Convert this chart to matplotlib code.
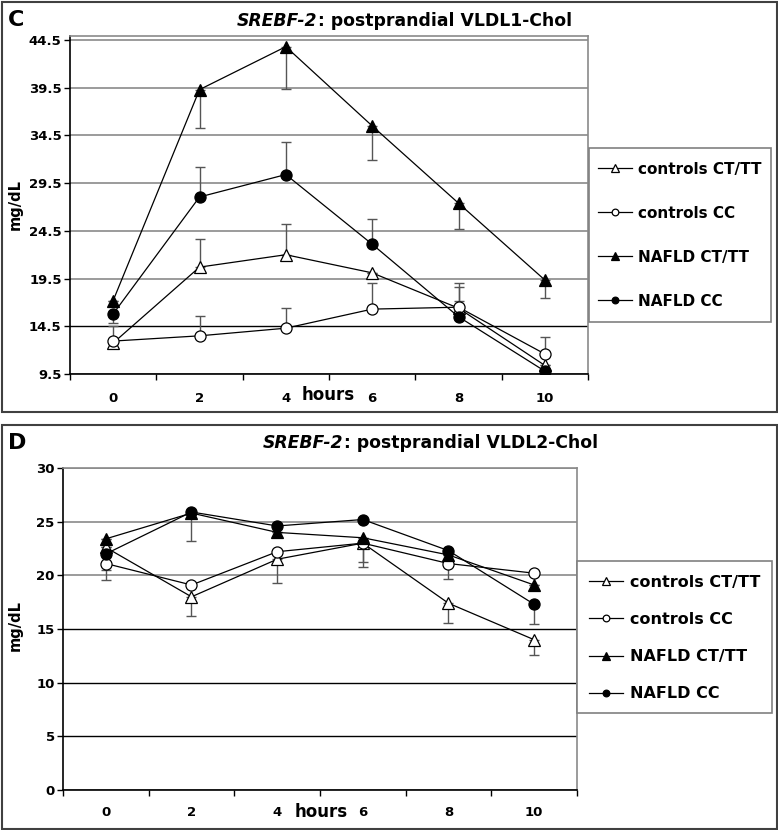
import matplotlib
matplotlib.use('Agg')
import matplotlib.pyplot as plt
from matplotlib.patches import Rectangle
from matplotlib.text import Annotation
import numpy as np

plt.rcParams['font.family'] = ['DejaVu Sans']
plt.rcParams['font.weight'] = 'bold'

# ---------------- data ----------------
hours = ['0', '2', '4', '6', '8', '10']
series_names = ['controls CT/TT', 'controls CC', 'NAFLD CT/TT', 'NAFLD CC']

# Panel C: VLDL1-Chol (mg/dL)
c_ctrl_ctt = [12.75, 20.7, 22.0, 20.1, 16.4, 10.4]
c_ctrl_cc = [12.95, 13.5, 14.3, 16.3, 16.5, 11.6]
c_nafld_ctt = [17.2, 39.3, 43.8, 35.5, 27.4, 19.35]
c_nafld_cc = [15.8, 28.05, 30.4, 23.1, 15.5, 9.8]
# error bars (lower, upper)
c_ctrl_ctt_lo = [0, 0, 0, 0, 0, 0]
c_ctrl_ctt_hi = [1.8, 2.9, 3.2, 0, 2.2, 0]
c_ctrl_cc_lo = [0, 0, 0, 0, 0, 0]
c_ctrl_cc_hi = [0, 2.1, 2.1, 2.7, 2.5, 1.8]
c_nafld_ctt_lo = [0, 4.0, 4.4, 3.6, 2.7, 1.9]
c_nafld_ctt_hi = [0, 0, 0, 0, 0, 0]
c_nafld_cc_lo = [1.0, 0, 0, 0, 0, 0]
c_nafld_cc_hi = [0, 3.1, 3.4, 2.6, 1.6, 0]
c_yticks = [9.5, 14.5, 19.5, 24.5, 29.5, 34.5, 39.5, 44.5]

# Panel D: VLDL2-Chol (mg/dL)
d_ctrl_ctt = [22.6, 18.0, 21.5, 23.0, 17.4, 14.0]
d_ctrl_cc = [21.1, 19.1, 22.2, 23.0, 21.1, 20.2]
d_nafld_ctt = [23.4, 25.8, 24.0, 23.5, 21.9, 19.1]
d_nafld_cc = [22.0, 25.9, 24.6, 25.2, 22.3, 17.3]
d_ctrl_ctt_lo = [0, 1.8, 2.2, 2.2, 1.8, 1.4]
d_ctrl_cc_lo = [1.5, 0, 0, 1.8, 1.4, 0]
d_nafld_ctt_lo = [0, 2.6, 0, 0, 0, 0]
d_nafld_cc_lo = [1.5, 0, 0, 0, 0, 1.8]
d_zero = [0, 0, 0, 0, 0, 0]
d_yticks = [0, 5, 10, 15, 20, 25, 30]

W, H = 778, 830
fig = plt.figure(figsize=(W / 100, H / 100), dpi=100)


def fx(x):
    return x / W


def fy(y):
    return 1 - y / H


def axes_px(x0, y0, x1, y1):
    return fig.add_axes([fx(x0), fy(y1), (x1 - x0) / W, (y1 - y0) / H])


styles = [
    dict(marker='^', mfc='white', ms=9),
    dict(marker='o', mfc='white', ms=8),
    dict(marker='^', mfc='black', ms=9),
    dict(marker='o', mfc='black', ms=8),
]


def draw_panel(ax, series, errs, yticks, ylim, ylabfmt, dark_grid, xpad):
    x = np.arange(len(hours))
    for vals, (lo, hi) in zip(series, errs):
        ax.errorbar(x, vals, yerr=[lo, hi], fmt='none', ecolor='#555555',
                    elinewidth=1.0, capsize=3.3, capthick=1.0, zorder=2)
    for vals, name, st in zip(series, series_names, styles):
        ax.plot(x, vals, color='black', lw=0.9, mec='black', mew=0.9,
                label=name, zorder=3, **st)
    ax.set_xlim(-0.5, len(hours) - 0.5)
    ax.set_ylim(*ylim)
    ax.set_xticks(x)
    ax.set_xticklabels(hours)
    ax.set_xticks(np.arange(-0.5, len(hours)), minor=True)
    ax.tick_params(axis='x', which='major', length=0, pad=xpad, labelsize=9.5)
    ax.tick_params(axis='x', which='minor', length=4.5, width=1.0, direction='out')
    ax.set_yticks(yticks)
    ax.set_yticklabels([ylabfmt % v for v in yticks])
    ax.tick_params(axis='y', length=4.5, width=1.0, pad=1.5, labelsize=9.5)
    ax.yaxis.grid(True, color='#8a8a8a', lw=1.2)
    ax.set_axisbelow(True)
    for gl, v in zip(ax.get_ygridlines(), yticks):
        if v in dark_grid:
            gl.set_color('black')
            gl.set_linewidth(1.0)
    for s in ['left', 'bottom']:
        ax.spines[s].set_color('black')
        ax.spines[s].set_linewidth(1.2)
    for s in ['top', 'right']:
        ax.spines[s].set_color('#8a8a8a')
        ax.spines[s].set_linewidth(1.2)


# ---------------- panel C ----------------
axC = axes_px(70, 36, 588, 374)
draw_panel(axC,
           [c_ctrl_ctt, c_ctrl_cc, c_nafld_ctt, c_nafld_cc],
           [(c_ctrl_ctt_lo, c_ctrl_ctt_hi), (c_ctrl_cc_lo, c_ctrl_cc_hi),
            (c_nafld_ctt_lo, c_nafld_ctt_hi), (c_nafld_cc_lo, c_nafld_cc_hi)],
           c_yticks, (9.5, 44.92), '%.1f', [14.5], 13.1)

# ---------------- panel D ----------------
axD = axes_px(63, 468, 577, 790)
draw_panel(axD,
           [d_ctrl_ctt, d_ctrl_cc, d_nafld_ctt, d_nafld_cc],
           [(d_ctrl_ctt_lo, d_zero), (d_ctrl_cc_lo, d_zero),
            (d_nafld_ctt_lo, d_zero), (d_nafld_cc_lo, d_zero)],
           d_yticks, (0, 30), '%d', [5, 10, 15], 11.6)

# legends
legend_cfg = [
    (axC, (589, 148), dict(fontsize=11, labelspacing=1.33, borderpad=0.6,
                           handleheight=2.0, handlelength=2.2, handletextpad=0.4)),
    (axD, (577, 561), dict(fontsize=11.5, labelspacing=1.27, borderpad=0.75,
                           handleheight=1.25, handlelength=2.1, handletextpad=0.45)),
]
for ax, (lx, ly), kw in legend_cfg:
    leg = ax.legend(loc='upper left', bbox_to_anchor=(fx(lx), fy(ly)),
                    bbox_transform=fig.transFigure, borderaxespad=0,
                    markerscale=0.6, fancybox=False, framealpha=1,
                    edgecolor='#808080', **kw)
    leg.get_frame().set_linewidth(1.2)
    # centre the handle lines on the text rows
    for hl in leg.legend_handles:
        yd = np.asarray(hl.get_ydata(), dtype=float)
        hl.set_ydata(np.full_like(yd, 0.35 * kw['fontsize']))

# panel frames
for (x0, y0, x1, y1) in [(2, 2, 777, 412), (2, 425, 777, 829)]:
    fig.patches.append(Rectangle((fx(x0), fy(y1)), (x1 - x0) / W, (y1 - y0) / H,
                                 transform=fig.transFigure, fill=False,
                                 edgecolor='#404040', lw=1.5))

# panel letters
fig.text(fx(8), fy(20), 'C', fontsize=16, fontweight='bold', ha='left', va='center')
fig.text(fx(8), fy(443), 'D', fontsize=16, fontweight='bold', ha='left', va='center')

# titles (italic gene name + normal part)
for (tx, ty, rest) in [(237, 21, ': postprandial VLDL1-Chol'),
                       (263, 443, ': postprandial VLDL2-Chol')]:
    t1 = fig.text(fx(tx), fy(ty), 'SREBF-2', fontsize=12.4, fontweight='bold',
                  fontstyle='italic', ha='left', va='center')
    fig.add_artist(Annotation(rest, xy=(1, 0.5), xycoords=t1,
                              fontsize=12.4, fontweight='bold',
                              ha='left', va='center'))

# axis labels
fig.text(fx(328), fy(395), 'hours', fontsize=12, fontweight='bold', ha='center', va='center')
fig.text(fx(321), fy(812), 'hours', fontsize=12, fontweight='bold', ha='center', va='center')
fig.text(fx(15), fy(204), 'mg/dL', fontsize=10.5, fontweight='bold', rotation=90,
         ha='center', va='center')
fig.text(fx(15), fy(625), 'mg/dL', fontsize=10.5, fontweight='bold', rotation=90,
         ha='center', va='center')

fig.savefig('out.png', dpi=100)
